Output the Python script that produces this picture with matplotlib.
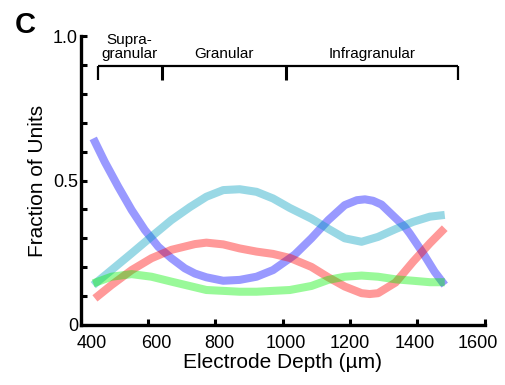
import matplotlib
matplotlib.use("Agg")
import matplotlib.pyplot as plt
import matplotlib.transforms as mtransforms

plt.rcParams['font.family'] = ['Liberation Sans', 'DejaVu Sans']

# Data
blue_x = [437, 471, 511, 551, 590, 630, 669, 709, 739, 773, 823, 872, 922, 971, 1021, 1036, 1085, 1135, 1184, 1220, 1244, 1268, 1293, 1335, 1362, 1377, 1417, 1451, 1481]
blue_y = [0.646, 0.565, 0.479, 0.398, 0.329, 0.271, 0.231, 0.196, 0.178, 0.165, 0.153, 0.156, 0.167, 0.190, 0.231, 0.244, 0.300, 0.363, 0.415, 0.432, 0.435, 0.430, 0.417, 0.370, 0.340, 0.317, 0.248, 0.184, 0.138]

cyan_x = [437, 491, 551, 610, 669, 724, 773, 823, 872, 922, 971, 1021, 1085, 1135, 1184, 1234, 1283, 1335, 1387, 1437, 1481]
cyan_y = [0.138, 0.190, 0.248, 0.306, 0.363, 0.408, 0.444, 0.467, 0.470, 0.461, 0.438, 0.405, 0.368, 0.333, 0.300, 0.288, 0.305, 0.332, 0.357, 0.375, 0.381]

red_x = [442, 491, 551, 610, 669, 739, 773, 823, 872, 922, 971, 1021, 1085, 1135, 1184, 1234, 1258, 1283, 1335, 1387, 1437, 1481]
red_y = [0.092, 0.138, 0.190, 0.231, 0.260, 0.280, 0.285, 0.279, 0.265, 0.254, 0.246, 0.232, 0.201, 0.165, 0.133, 0.110, 0.107, 0.110, 0.147, 0.219, 0.283, 0.335]

green_x = [437, 491, 551, 610, 669, 730, 773, 823, 872, 922, 971, 1021, 1085, 1135, 1184, 1234, 1283, 1335, 1387, 1437, 1481]
green_y = [0.144, 0.167, 0.176, 0.167, 0.150, 0.133, 0.121, 0.118, 0.115, 0.115, 0.118, 0.121, 0.135, 0.156, 0.167, 0.171, 0.167, 0.158, 0.153, 0.148, 0.148]

x_ticks = [400, 600, 800, 1000, 1200, 1400, 1600]
y_ticks = [0, 0.1, 0.2, 0.3, 0.4, 0.5, 0.6, 0.7, 0.8, 0.9, 1.0]
y_ticklabels = ['0', '', '', '', '', '0.5', '', '', '', '', '1.0']

layer_bounds = [450, 640, 1010, 1520]
layer_names = ['Supra-\ngranular', 'Granular', 'Infragranular']

fig = plt.figure(figsize=(5.05, 3.85), dpi=100)
ax = fig.add_axes([0.160, 0.156, 0.800, 0.750])

lw = 5.8
style = dict(alpha=0.4, lw=lw, solid_capstyle='butt', solid_joinstyle='round')
ax.plot(blue_x, blue_y, color=(0.0, 0.0, 1.0), **style)
ax.plot(cyan_x, cyan_y, color=(0.0, 0.62, 0.75), **style)
ax.plot(red_x, red_y, color=(1.0, 0.0, 0.0), **style)
ax.plot(green_x, green_y, color=(0.0, 0.95, 0.0), **style)

ax.set_xlim(400, 1600)
ax.set_ylim(0, 1.0)
for s in ['top', 'right']:
    ax.spines[s].set_visible(False)
for s in ['left', 'bottom']:
    ax.spines[s].set_linewidth(2.4)
ax.set_xticks(x_ticks)
ax.set_yticks(y_ticks)
ax.set_yticklabels(y_ticklabels)
ax.tick_params(direction='in', length=4.5, width=2.2, labelsize=13)
ax.tick_params(axis='x', pad=7)
ax.tick_params(axis='y', pad=2)

# shift x tick labels slightly like reference
offsets_px = [11, 8, 4, 3, 0, -3, -7]
for lab, off in zip(ax.get_xticklabels(), offsets_px):
    lab.set_transform(lab.get_transform() + mtransforms.ScaledTranslation(off / 100, 0, fig.dpi_scale_trans))

ax.set_xlabel('Electrode Depth (\u00b5m)', fontsize=15, labelpad=1)
ax.set_ylabel('Fraction of Units', fontsize=15, labelpad=4)

# layer bracket
ybar = 0.898
ax.plot([layer_bounds[0], layer_bounds[-1]], [ybar, ybar], color='black', lw=1.6, clip_on=False, solid_capstyle='butt')
for i, b in enumerate(layer_bounds):
    ax.plot([b, b], [ybar, ybar - 0.05], color='black', lw=1.6 if i in (0, len(layer_bounds) - 1) else 2.2,
            clip_on=False, solid_capstyle='butt')
for i, name in enumerate(layer_names):
    mid = (layer_bounds[i] + layer_bounds[i + 1]) / 2
    ax.text(mid, 0.925, name, ha='center', va='baseline', fontsize=11, linespacing=0.95)

fig.text(0.03, 0.915, 'C', fontsize=21, fontweight='bold', ha='left', va='baseline')

fig.savefig('out.png', dpi=100)
